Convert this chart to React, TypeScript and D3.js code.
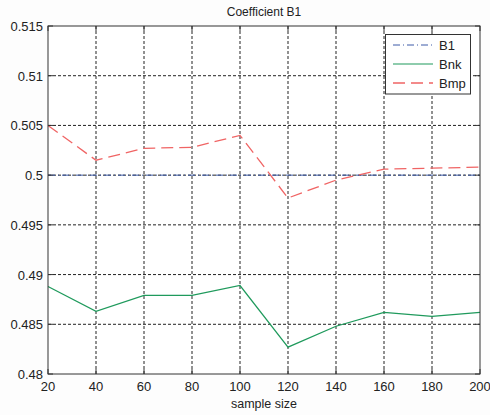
import React from "react";
import * as d3 from "d3";

const sampleSizes = [20, 40, 60, 80, 100, 120, 140, 160, 180, 200];
const b1Values = [0.5, 0.5, 0.5, 0.5, 0.5, 0.5, 0.5, 0.5, 0.5, 0.5];
const bnkValues = [0.4888, 0.4863, 0.4879, 0.4879, 0.4889, 0.4827, 0.4848, 0.4862, 0.4858, 0.4862];
const bmpValues = [0.505, 0.5015, 0.5027, 0.5028, 0.504, 0.4977, 0.4995, 0.5006, 0.5007, 0.5008];
const xTicks = [20, 40, 60, 80, 100, 120, 140, 160, 180, 200];
const yTicks = [0.48, 0.485, 0.49, 0.495, 0.5, 0.505, 0.51, 0.515];
const yTickLabels = ["0.48", "0.485", "0.49", "0.495", "0.5", "0.505", "0.51", "0.515"];
const seriesNames = ["B1", "Bnk", "Bmp"];

const W = 490, H = 415;
const L = 48, R = 480, T = 26, B = 374;
const FONT = "Liberation Sans, Arial, sans-serif";

export default function App() {
  const x = d3.scaleLinear().domain([20, 200]).range([L, R]);
  const y = d3.scaleLinear().domain([0.48, 0.515]).range([B, T]);
  const line = d3.line<number>().x((_, i) => x(sampleSizes[i])).y((d) => y(d));

  const series = [
    { name: seriesNames[0], values: b1Values, color: "#3c5aa8", dash: "7,3,1,3", width: 1 },
    { name: seriesNames[1], values: bnkValues, color: "#1f9a5c", dash: undefined, width: 1.2 },
    { name: seriesNames[2], values: bmpValues, color: "#f06464", dash: "12,6", width: 1.3 },
  ];

  const tick = 5;
  return (
    <svg width={W} height={H} style={{ position: "absolute", left: 0, top: 0, background: "#fdfdfd" }}>
      <rect x={L} y={T} width={R - L} height={B - T} fill="#ffffff" />
      {/* grid */}
      {xTicks.slice(1, -1).map((v) => (
        <line key={"gx" + v} x1={x(v)} x2={x(v)} y1={T} y2={B} stroke="#222" strokeDasharray="3,2" strokeWidth={1} />
      ))}
      {yTicks.slice(1, -1).map((v) => (
        <line key={"gy" + v} x1={L} x2={R} y1={y(v)} y2={y(v)} stroke="#222" strokeDasharray="3,2" strokeWidth={1} />
      ))}
      {/* series */}
      {series.map((s) => (
        <path key={s.name} d={line(s.values) || ""} fill="none" stroke={s.color} strokeWidth={s.width} strokeDasharray={s.dash} />
      ))}
      {/* box */}
      <rect x={L} y={T} width={R - L} height={B - T} fill="none" stroke="#333" strokeWidth={1} />
      {/* ticks */}
      {xTicks.map((v) => (
        <g key={"tx" + v}>
          <line x1={x(v)} x2={x(v)} y1={B} y2={B - tick} stroke="#333" />
          <line x1={x(v)} x2={x(v)} y1={T} y2={T + tick} stroke="#333" />
          <text x={x(v)} y={B + 17} textAnchor="middle" fontSize={13} fontFamily={FONT} fill="#222">{v}</text>
        </g>
      ))}
      {yTicks.map((v, i) => (
        <g key={"ty" + v}>
          <line x1={L} x2={L + tick} y1={y(v)} y2={y(v)} stroke="#333" />
          <line x1={R} x2={R - tick} y1={y(v)} y2={y(v)} stroke="#333" />
          <text x={L - 5} y={y(v) + 5} textAnchor="end" fontSize={13} fontFamily={FONT} fill="#222">{yTickLabels[i]}</text>
        </g>
      ))}
      <text x={(L + R) / 2} y={16} textAnchor="middle" fontSize={12} fontFamily={FONT} fill="#222">Coefficient B1</text>
      <text x={(L + R) / 2} y={408} textAnchor="middle" fontSize={12.5} fontFamily={FONT} fill="#222">sample size</text>
      {/* legend */}
      <rect x={385.5} y={34.5} width={85} height={59.5} fill="#ffffff" stroke="#333" strokeWidth={1} />
      {series.map((s, i) => {
        const ly = 45 + i * 19;
        return (
          <g key={"lg" + s.name}>
            <line x1={393} x2={433} y1={ly} y2={ly} stroke={s.color} strokeWidth={s.width} strokeDasharray={s.dash} />
            <text x={439} y={ly + 5} fontSize={13} fontFamily={FONT} fill="#222">{s.name}</text>
          </g>
        );
      })}
    </svg>
  );
}
